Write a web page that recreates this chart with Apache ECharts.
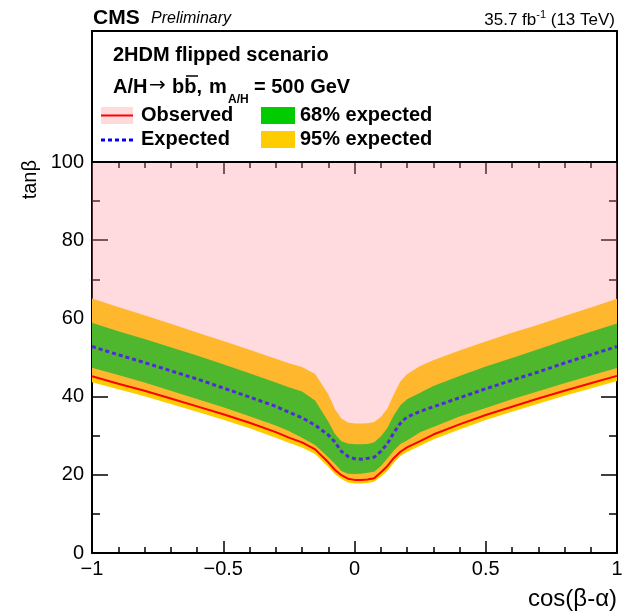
<!DOCTYPE html>
<html>
<head>
<meta charset="utf-8">
<script src="https://cdn.jsdelivr.net/npm/echarts@6/dist/echarts.min.js"></script>
<style>
html,body{margin:0;padding:0;background:#fff;}
#chart{width:628px;height:613px;}
</style>
</head>
<body>
<div id="chart"></div>
<script>
// cos(beta-alpha) sample points
var xs = [-1,-0.9,-0.8,-0.7,-0.6,-0.5,-0.4,-0.3,-0.25,-0.2,-0.15,-0.1,-0.075,-0.05,-0.025,0,0.025,0.05,0.075,0.1,0.125,0.15,0.175,0.2,0.25,0.3,0.4,0.5,0.6,0.7,0.8,0.9,1];
// tan(beta) limits
var band95Up  = [65.1,62.9,60.8,58.6,56.4,54.2,52.0,49.7,48.5,47.6,45.8,40.6,36.8,34.4,33.4,33.1,33.1,33.2,33.5,34.8,36.9,40.6,43.9,45.7,47.8,49.3,51.8,54.1,56.3,58.4,60.6,62.8,65.0];
var band68Up  = [58.9,56.7,54.7,52.6,50.5,48.3,46.0,43.6,42.4,41.3,39.0,33.6,30.5,28.6,28.0,27.8,27.8,27.9,28.3,29.8,32.0,35.2,37.8,39.3,41.0,42.7,45.3,47.7,49.9,52.1,54.4,56.6,58.7];
var expected  = [52.8,50.7,48.7,46.6,44.5,42.2,39.9,37.5,36.0,34.6,32.7,30.2,28.4,26.0,24.7,24.1,24.0,24.2,24.5,26.0,27.9,30.8,33.2,34.8,36.2,37.4,39.7,42.0,44.2,46.3,48.6,50.7,52.8];
var band68Low = [47.4,45.5,43.6,41.5,39.4,37.3,35.0,32.6,31.2,29.5,27.6,24.5,22.8,21.0,20.3,20.2,20.3,20.5,20.8,22.2,24.2,26.2,27.9,28.8,30.9,32.2,34.9,37.1,39.3,41.4,43.4,45.4,47.3];
var observed  = [45.2,43.3,41.5,39.5,37.5,35.5,33.3,30.9,29.5,28.3,26.5,23.2,21.3,19.9,19.0,18.7,18.7,18.8,19.1,20.6,22.2,24.3,25.9,27.0,28.6,30.3,32.9,35.3,37.4,39.5,41.5,43.4,45.3];
var band95Low = [43.7,41.9,40.1,38.1,36.1,34.1,31.9,29.5,28.2,27.0,25.3,22.0,20.2,18.9,18.0,17.8,17.8,17.9,18.2,19.5,21.0,23.1,24.8,25.8,27.4,29.0,31.6,34.0,36.1,38.2,40.2,42.1,44.0];
var yTop = 100;
var excludedTop = xs.map(function(){ return yTop; });

var FONT = 'Liberation Sans';
function pairs(arr){ return xs.map(function(x,i){ return [x, arr[i]]; }); }
function fmt(v){ return v < 0 ? '\u2212' + Math.abs(v) : String(v); }

function bandSeries(name, upper, lower, fill, z){
  return {
    type:'custom', name:name, coordinateSystem:'cartesian2d', z:z, silent:true, clip:true,
    data:[[xs[0], lower[0]]],
    renderItem:function(params, api){
      var pts = [];
      for (var i=0;i<xs.length;i++) pts.push(api.coord([xs[i], upper[i]]));
      for (var j=xs.length-1;j>=0;j--) pts.push(api.coord([xs[j], lower[j]]));
      return {type:'polygon', shape:{points:pts}, style:{fill:fill, stroke:null}};
    }
  };
}

var chart = echarts.init(document.getElementById('chart'), null, {renderer:'canvas'});
var axisCommon = {
  axisLine:{show:true, onZero:false, lineStyle:{color:'#000', width:2}},
  splitLine:{show:false}
};
var tickStyle = {color:'#000', width:1.5};
var option = {
  animation:false,
  backgroundColor:'#fff',
  grid:{left:92, right:11, top:162, bottom:60, containLabel:false},
  xAxis:[
    Object.assign({type:'value', min:-1, max:1, interval:0.5, position:'bottom',
      axisTick:{show:true, inside:true, length:12, lineStyle:tickStyle},
      minorTick:{show:true, splitNumber:5, length:6, lineStyle:tickStyle},
      axisLabel:{show:true, formatter:fmt, fontFamily:FONT, fontSize:20, color:'#000', margin:6, showMinLabel:true, showMaxLabel:true}
    }, axisCommon),
    Object.assign({type:'value', min:-1, max:1, interval:0.5, position:'top',
      axisTick:{show:true, inside:true, length:12, lineStyle:tickStyle},
      minorTick:{show:true, splitNumber:5, length:6, lineStyle:tickStyle},
      axisLabel:{show:false}
    }, axisCommon)
  ],
  yAxis:[
    Object.assign({type:'value', min:0, max:100, interval:20, position:'left',
      axisTick:{show:true, inside:true, length:16, lineStyle:tickStyle},
      minorTick:{show:true, splitNumber:2, length:8, lineStyle:tickStyle},
      axisLabel:{show:true, fontFamily:FONT, fontSize:20, color:'#000', margin:8}
    }, axisCommon),
    Object.assign({type:'value', min:0, max:100, interval:20, position:'right',
      axisTick:{show:true, inside:true, length:16, lineStyle:tickStyle},
      minorTick:{show:true, splitNumber:2, length:8, lineStyle:tickStyle},
      axisLabel:{show:false}
    }, axisCommon)
  ],
  series:[
    bandSeries('95% expected', band95Up, band95Low, '#ffcc00', 1),
    bandSeries('68% expected', band68Up, band68Low, '#00cc00', 2),
    {type:'line', name:'Expected', data:pairs(expected), symbol:'none', z:3, silent:true,
      lineStyle:{color:'#0000ff', width:3, type:[4,3]}},
    bandSeries('Observed excluded', excludedTop, observed, 'rgba(255,137,150,0.31)', 4),
    {type:'line', name:'Observed', data:pairs(observed), symbol:'none', z:5, silent:true,
      lineStyle:{color:'#ff0000', width:2}}
  ],
  graphic:{elements:[
    {type:'rect', shape:{x:92, y:31, width:525, height:131}, style:{fill:'none', stroke:'#000', lineWidth:2}, z:10},
    {type:'text', x:93, y:18.5, style:{text:'CMS', font:'bold 21px "Liberation Sans"', fill:'#000', align:'left', verticalAlign:'middle', textAlign:'left', textVerticalAlign:'middle'}},
    {type:'text', x:151, y:19, style:{text:'Preliminary', font:'italic 16px "Liberation Sans"', fill:'#000', align:'left', verticalAlign:'middle', textAlign:'left', textVerticalAlign:'middle'}},
    {type:'text', x:615, y:19, style:{text:'{n|35.7 fb}{s|-1}{n| (13 TeV)}', align:'right', verticalAlign:'middle', textAlign:'right', textVerticalAlign:'middle',
      rich:{n:{fontFamily:FONT, fontSize:17, lineHeight:20, verticalAlign:'bottom', fill:'#000', color:'#000'}, s:{fontFamily:FONT, fontSize:11, lineHeight:12, verticalAlign:'top', fill:'#000', color:'#000'}}}},
    {type:'text', x:113, y:55, style:{text:'2HDM flipped scenario', font:'bold 20px "Liberation Sans"', fill:'#000', align:'left', verticalAlign:'middle', textAlign:'left', textVerticalAlign:'middle'}},
    {type:'text', x:113, y:87, style:{text:'A/H', font:'bold 20px "Liberation Sans"', fill:'#000', align:'left', verticalAlign:'middle', textAlign:'left', textVerticalAlign:'middle'}},
    {type:'text', x:149, y:86, style:{text:'\u2192', font:'20px "DejaVu Sans"', fill:'#000', align:'left', verticalAlign:'middle', textAlign:'left', textVerticalAlign:'middle'}},
    {type:'text', x:172, y:87, style:{text:'bb,', font:'bold 20px "Liberation Sans"', fill:'#000', align:'left', verticalAlign:'middle', textAlign:'left', textVerticalAlign:'middle'}},
    {type:'line', shape:{x1:186, y1:76, x2:198, y2:76}, style:{stroke:'#000', lineWidth:1.5}},
    {type:'text', x:209, y:87, style:{text:'m', font:'bold 20px "Liberation Sans"', fill:'#000', align:'left', verticalAlign:'middle', textAlign:'left', textVerticalAlign:'middle'}},
    {type:'text', x:228, y:100, style:{text:'A/H', font:'bold 12px "Liberation Sans"', fill:'#000', align:'left', verticalAlign:'middle', textAlign:'left', textVerticalAlign:'middle'}},
    {type:'text', x:254, y:87, style:{text:'= 500 GeV', font:'bold 20px "Liberation Sans"', fill:'#000', align:'left', verticalAlign:'middle', textAlign:'left', textVerticalAlign:'middle'}},
    {type:'rect', shape:{x:101, y:107, width:32, height:17}, style:{fill:'#ffdadb'}},
    {type:'line', shape:{x1:101, y1:115.5, x2:133, y2:115.5}, style:{stroke:'#ff0000', lineWidth:2}},
    {type:'text', x:141, y:115, style:{text:'Observed', font:'bold 20px "Liberation Sans"', fill:'#000', align:'left', verticalAlign:'middle', textAlign:'left', textVerticalAlign:'middle'}},
    {type:'line', shape:{x1:101, y1:140, x2:133, y2:140}, style:{stroke:'#0000ff', lineWidth:3, lineDash:[4,3]}},
    {type:'text', x:141, y:139, style:{text:'Expected', font:'bold 20px "Liberation Sans"', fill:'#000', align:'left', verticalAlign:'middle', textAlign:'left', textVerticalAlign:'middle'}},
    {type:'rect', shape:{x:261, y:107, width:34, height:17}, style:{fill:'#00cc00'}},
    {type:'text', x:300, y:115, style:{text:'68% expected', font:'bold 20px "Liberation Sans"', fill:'#000', align:'left', verticalAlign:'middle', textAlign:'left', textVerticalAlign:'middle'}},
    {type:'rect', shape:{x:261, y:131, width:34, height:17}, style:{fill:'#ffcc00'}},
    {type:'text', x:300, y:139, style:{text:'95% expected', font:'bold 20px "Liberation Sans"', fill:'#000', align:'left', verticalAlign:'middle', textAlign:'left', textVerticalAlign:'middle'}},
    {type:'text', x:30, y:160, rotation:Math.PI/2, style:{text:'tan\u03b2', font:'20px "Liberation Sans"', fill:'#000', align:'right', verticalAlign:'middle', textAlign:'right', textVerticalAlign:'middle'}},
    {type:'text', x:617, y:599, style:{text:'cos(\u03b2-\u03b1)', font:'24px "Liberation Sans"', fill:'#000', align:'right', verticalAlign:'middle', textAlign:'right', textVerticalAlign:'middle'}}
  ]}
};
chart.setOption(option);
</script>
</body>
</html>
